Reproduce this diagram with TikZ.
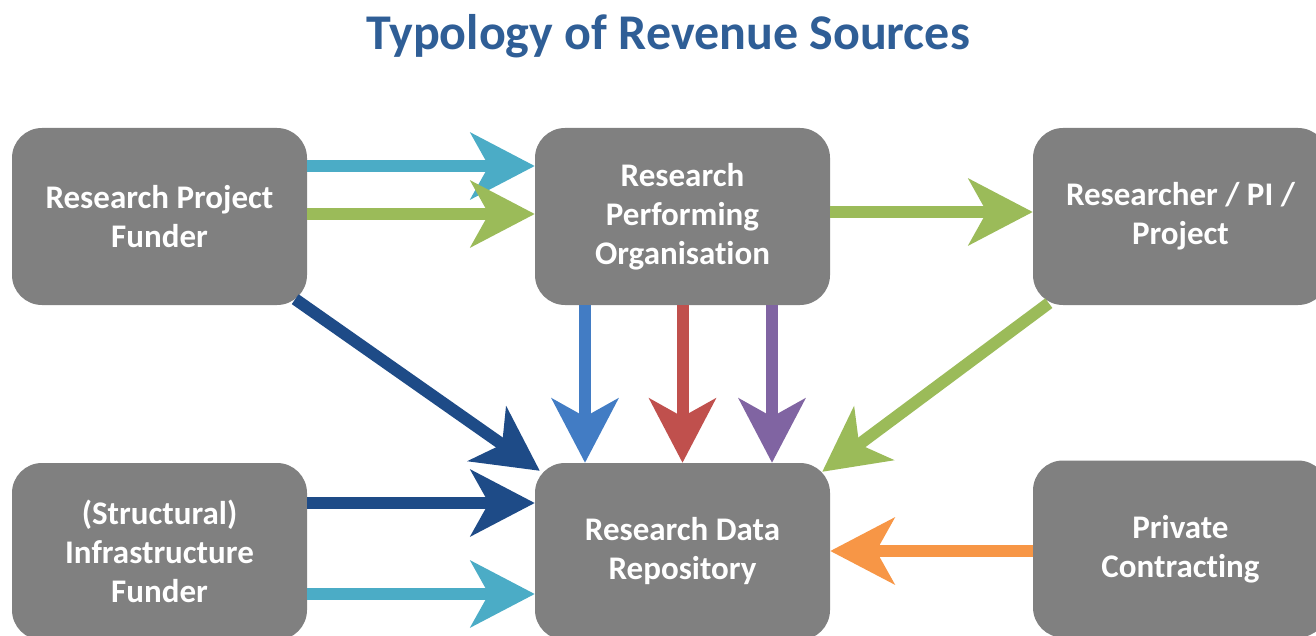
\documentclass[tikz,border=0pt]{standalone}
\usepackage{fontspec}
\setmainfont{Carlito}[Ligatures={NoCommon}]
\usetikzlibrary{arrows.meta}
\definecolor{boxgray}{RGB}{128,128,128}
\definecolor{titleblue}{RGB}{47,94,150}
\definecolor{acyan}{RGB}{75,172,198}
\definecolor{agreen}{RGB}{155,187,89}
\definecolor{adark}{RGB}{30,75,135}
\definecolor{ablue}{RGB}{66,124,196}
\definecolor{ared}{RGB}{192,80,77}
\definecolor{apurple}{RGB}{128,100,162}
\definecolor{aorange}{RGB}{247,150,70}
\tikzset{
  gbox/.style={rectangle, rounded corners=30pt, fill=boxgray, text=white,
    minimum width=295pt, minimum height=177pt, inner sep=0pt, align=center,
    font=\bfseries\fontsize{33}{39}\selectfont},
  bigarrow/.style={line width=12pt, -{Stealth[length=64pt, width=66pt, inset=18pt]}},
}
\begin{document}
\begin{tikzpicture}[x=1pt, y=-1pt]
\useasboundingbox (0,0) rectangle (1316,636);
\begin{scope}
\clip (0,0) rectangle (1316,636);
\node[font=\bfseries\fontsize{50}{56}\selectfont, text=titleblue] (title) at (668,36) {Typology of Revenue Sources};
\node[gbox] (rpf) at (159.5,216.5) {Research Project\\Funder};
\node[gbox] (rpo) at (682.5,216.5) {Research\\Performing\\Organisation};
\node[gbox] (pi) at (1180.5,216.5) {Researcher / PI /\\Project};
\node[gbox] (sif) at (159.5,551.5) {(Structural)\\Infrastructure\\Funder};
\node[gbox] (rdr) at (682.5,551.5) {Research Data\\Repository};
\node[gbox] (pc) at (1180.5,549) {Private\\Contracting};
\end{scope}
\draw[bigarrow, acyan] (rpf.east |- 0,166) -- (rpo.west |- 0,166);
\draw[bigarrow, agreen] (rpf.east |- 0,214) -- (rpo.west |- 0,214);
\draw[bigarrow, agreen] (rpo.east |- 0,212) -- (pi.west |- 0,212);
\draw[bigarrow, adark] ([shift={(-12,-6)}]rpf.south east) -- ([shift={(5,8)}]rdr.north west);
\draw[bigarrow, ablue] (rpo.south -| 585,0) -- (rdr.north -| 585,0);
\draw[bigarrow, ared] (rpo.south) -- (rdr.north);
\draw[bigarrow, apurple] (rpo.south -| 772,0) -- (rdr.north -| 772,0);
\draw[bigarrow, agreen] ([shift={(16,-2)}]pi.south west) -- ([shift={(-8,9)}]rdr.north east);
\draw[bigarrow, adark] (sif.east |- 0,503) -- (rdr.west |- 0,503);
\draw[bigarrow, acyan] (sif.east |- 0,594) -- (rdr.west |- 0,594);
\draw[bigarrow, aorange] (pc.west |- 0,551) -- (rdr.east |- 0,551);
\end{tikzpicture}
\end{document}
